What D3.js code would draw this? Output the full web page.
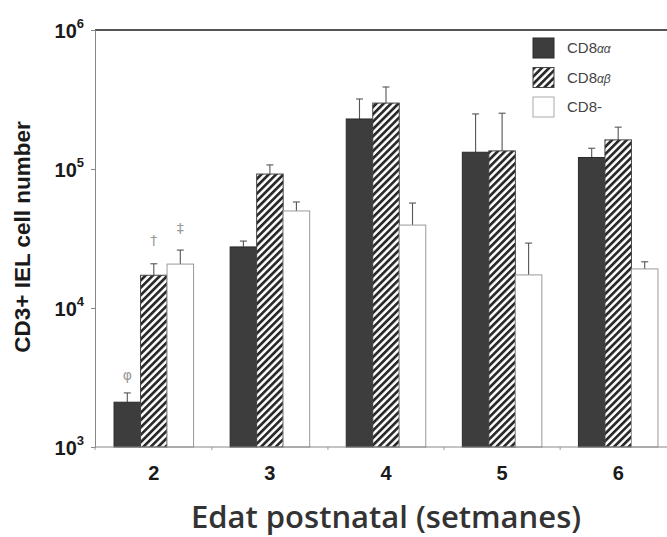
<!DOCTYPE html>
<html>
<head>
<meta charset="utf-8">
<script src="https://cdn.jsdelivr.net/npm/d3@7"></script>
<style>
  body { margin: 0; background: #fff; }
  svg { display: block; }
</style>
</head>
<body>
<svg id="chart" width="667" height="537"></svg>
<script>
// Postnatal week groups and the three IEL subsets
const weeks = ["2", "3", "4", "5", "6"];
const seriesNames = ["CD8αα", "CD8αβ", "CD8-"];

// Mean cell numbers per week
const cd8aa  = [2100, 27500, 229000, 132000, 121000];
const cd8ab  = [17200, 92000, 298000, 135000, 162000];
const cd8neg = [20700, 49900, 39500, 17300, 19100];

// Upper ends of the error bars
const cd8aaHi  = [2450, 30300, 319000, 249000, 141000];
const cd8abHi  = [20800, 107000, 389000, 252000, 200000];
const cd8negHi = [26100, 57900, 56900, 29300, 21500];

// Significance marks for week 2 (series index, symbol, level)
const sigSeries = [0, 1, 2];
const sigSymbols = ["φ", "†", "‡"];
const sigLevels = [3300, 30800, 37700];

const yTicks = [1e3, 1e4, 1e5, 1e6];
const yExponents = ["3", "4", "5", "6"];

const svg = d3.select("#chart");
const W = 667, H = 537;
const plotLeft = 95, plotTop = 30, plotBottom = 447, plotRight = 677;

const y = d3.scaleLog().domain([1e3, 1e6]).range([plotBottom, plotTop]);
const x0 = d3.scaleBand().domain(weeks).range([plotLeft, plotRight])
  .paddingInner(0.315).paddingOuter(0.164);
const x1 = d3.scaleBand().domain([0, 1, 2]).range([0, x0.bandwidth()]);

// Hatch pattern for the CD8αβ series
const defs = svg.append("defs");
const pat = defs.append("pattern")
  .attr("id", "hatch")
  .attr("patternUnits", "userSpaceOnUse")
  .attr("width", 5.2).attr("height", 5.2)
  .attr("patternTransform", "rotate(45)");
pat.append("rect").attr("width", 5.2).attr("height", 5.2).attr("fill", "#fff");
pat.append("rect").attr("width", 2.7).attr("height", 5.2).attr("fill", "#2a2a2a");

const fills = ["#3d3d3d", "url(#hatch)", "#ffffff"];
const strokes = ["#2a2a2a", "#444", "#9a9a9a"];

const values = [cd8aa, cd8ab, cd8neg];
const highs = [cd8aaHi, cd8abHi, cd8negHi];

const rows = [];
weeks.forEach((w, i) => {
  values.forEach((arr, s) => {
    rows.push({ week: w, s, v: arr[i], hi: highs[s][i] });
  });
});

// Error bars (drawn first so the bar body covers the stem)
const eg = svg.append("g").attr("stroke", "#555").attr("stroke-width", 1.1);
rows.forEach(d => {
  const cx = x0(d.week) + x1(d.s) + x1.bandwidth() / 2;
  eg.append("line").attr("x1", cx).attr("x2", cx)
    .attr("y1", y(d.v)).attr("y2", y(d.hi));
  eg.append("line").attr("x1", cx - 3.5).attr("x2", cx + 3.5)
    .attr("y1", y(d.hi)).attr("y2", y(d.hi));
});

// Bars
svg.append("g").selectAll("rect").data(rows).join("rect")
  .attr("x", d => x0(d.week) + x1(d.s))
  .attr("y", d => y(d.v))
  .attr("width", x1.bandwidth())
  .attr("height", d => plotBottom - y(d.v))
  .attr("fill", d => fills[d.s])
  .attr("stroke", d => strokes[d.s])
  .attr("stroke-width", 1);

// Significance symbols above week 2 bars
svg.append("g").selectAll("text").data(sigSeries).join("text")
  .attr("x", (s) => x0("2") + x1(s) + x1.bandwidth() / 2)
  .attr("y", (s, i) => y(sigLevels[i]))
  .attr("dy", "0.35em")
  .attr("text-anchor", "middle")
  .attr("font-family", "DejaVu Sans, sans-serif")
  .attr("font-size", 14)
  .attr("fill", "#999")
  .text((s, i) => sigSymbols[i]);

// Frame: top rule and left axis
svg.append("line").attr("x1", plotLeft).attr("x2", W)
  .attr("y1", plotTop).attr("y2", plotTop)
  .attr("stroke", "#555").attr("stroke-width", 1.8);

const yAxis = svg.append("g").attr("transform", `translate(${plotLeft},0)`)
  .call(d3.axisLeft(y).tickValues(yTicks).tickSize(4).tickPadding(7).tickFormat(() => ""));
yAxis.select(".domain").attr("stroke", "#888");
yAxis.selectAll(".tick line").attr("stroke", "#888");
yAxis.selectAll(".tick text").each(function (d, i) {
  const t = d3.select(this)
    .attr("font-family", "Liberation Sans, Arial, sans-serif")
    .attr("font-weight", "bold")
    .attr("font-size", 20)
    .attr("fill", "#1a1a1a")
    .attr("dy", "0.36em");
  t.append("tspan").text("10");
  t.append("tspan").attr("font-size", 13).attr("dy", "-0.75em").text(yExponents[i]);
});

// Bottom axis
const xAxis = svg.append("g").attr("transform", `translate(0,${plotBottom})`)
  .call(d3.axisBottom(x0).tickSize(0).tickPadding(19));
xAxis.select(".domain").attr("stroke", "#888").attr("d", `M${plotLeft},0H${W}`);
xAxis.selectAll(".tick text")
  .attr("font-family", "Liberation Sans, Arial, sans-serif")
  .attr("font-weight", "bold")
  .attr("font-size", 20)
  .attr("fill", "#1a1a1a");

// Small marks on the baseline between week groups
const bounds = weeks.slice(1).map(w => x0(w) - x0.step() * x0.paddingInner() / 2);
svg.append("g").selectAll("line").data([plotLeft, ...bounds]).join("line")
  .attr("x1", d => d).attr("x2", d => d)
  .attr("y1", plotBottom).attr("y2", plotBottom + 3)
  .attr("stroke", "#999");

// Axis titles
svg.append("text")
  .attr("transform", `translate(30,237) rotate(-90)`)
  .attr("text-anchor", "middle")
  .attr("font-family", "Liberation Sans, Arial, sans-serif")
  .attr("font-weight", "bold")
  .attr("font-size", 22.5)
  .attr("fill", "#1a1a1a")
  .text("CD3+ IEL cell number");

svg.append("text")
  .attr("x", (x0("2") + x0("6") + x0.bandwidth()) / 2)
  .attr("y", 528)
  .attr("text-anchor", "middle")
  .attr("font-family", "Open Sans, sans-serif")
  .attr("font-weight", 600)
  .attr("font-size", 31)
  .attr("fill", "#333")
  .text("Edat postnatal (setmanes)");

// Legend
const lg = svg.append("g").attr("transform", "translate(533,38)");
seriesNames.forEach((name, i) => {
  const row = lg.append("g").attr("transform", `translate(0,${i * 29.5})`);
  row.append("rect").attr("width", 21).attr("height", 20)
    .attr("fill", fills[i]).attr("stroke", i === 2 ? "#aaa" : strokes[i]);
  const t = row.append("text").attr("x", 34).attr("y", 15)
    .attr("font-family", "Liberation Sans, Arial, sans-serif")
    .attr("font-size", 15).attr("fill", "#444");
  t.append("tspan").text("CD8");
  const sub = name.slice(3);
  if (sub !== "-") t.append("tspan").attr("font-style", "italic").attr("font-size", 12).text(sub);
  else t.append("tspan").text(sub);
});
</script>
</body>
</html>
